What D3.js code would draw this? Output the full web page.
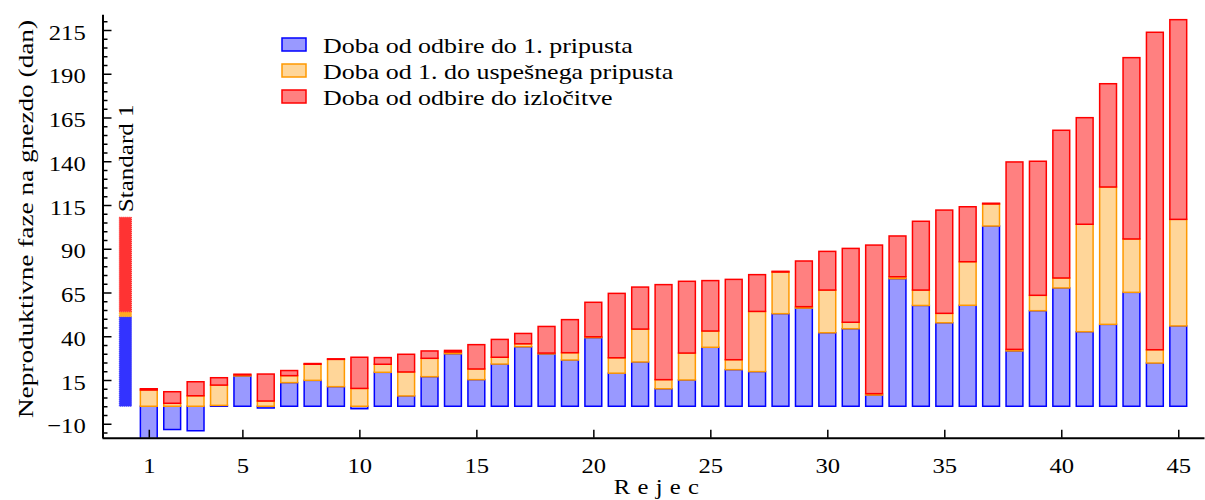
<!DOCTYPE html>
<html>
<head>
<meta charset="utf-8">
<script src="https://cdn.jsdelivr.net/npm/d3@7"></script>
<style>
  body { margin: 0; background: #fff; }
  svg { display: block; font-family: "Liberation Serif", "Times New Roman", serif; }
</style>
</head>
<body>
<div id="chart"></div>
<script>
// rejec (sow) number 1..45, values in days
var rejec = d3.range(1, 46);

var dobaDoPripusta = [-20, -13.3, -14, 0.5, 17.3, -1, 13.5, 14.8, 11.2, -1.4,
    19.4, 5.9, 16.9, 30.0, 15.2, 24.1, 34.0, 29.9, 26.4, 39.2,
    18.9, 25.3, 10.0, 15.0, 33.7, 20.9, 19.8, 52.9, 56.1, 42.0,
    44.3, 6.4, 72.9, 57.6, 47.7, 57.7, 103.0, 31.6, 54.6, 67.6,
    42.6, 46.8, 65.1, 24.7, 45.9];

var dobaDoUspesnega = [9.3, 1.7, 6.0, 11.6, 0.6, 3.0, 4.0, 9.2, 15.6, 10.2,
    4.6, 13.7, 10.5, 1.0, 6.1, 3.9, 1.7, 0.5, 4.2, 0.5,
    8.8, 18.8, 5.2, 15.4, 9.3, 5.7, 34.4, 23.8, 0.8, 24.4,
    3.7, 0.8, 1.1, 8.8, 5.4, 24.9, 12.6, 0.9, 8.8, 5.7,
    61.4, 78.5, 30.5, 7.6, 60.9];

var dobaDoIzlocitve = [0.7, 6.6, 8.0, 4.2, 0.4, 15.4, 2.9, 0.4, 0.3, 17.8,
    3.8, 10.1, 4.2, 0.9, 13.9, 10.2, 5.9, 15.2, 18.9, 19.7,
    36.8, 24.0, 54.3, 41.0, 28.8, 45.9, 21.0, 0.4, 26.1, 22.1,
    42.2, 84.9, 23.3, 39.3, 59.0, 31.4, 0.4, 107.1, 76.6, 84.4,
    60.9, 59.0, 103.6, 181.4, 114.1];

// "Standard 1" reference bar
var standard = [51.2, 2.8, 54.0];

var keys = ["blue", "orange", "red"];
var legendLabels = ["Doba od odbire do 1. pripusta",
    "Doba od 1. do uspešnega pripusta",
    "Doba od odbire do izločitve"];
var xTicks = [1, 5, 10, 15, 20, 25, 30, 35, 40, 45];
var yTicks = [-10, 15, 40, 65, 90, 115, 140, 165, 190, 215];

var fills = {blue: "#9999ff", orange: "#ffd699", red: "#ff8080"};
var strokes = {blue: "#0000ff", orange: "#ff9900", red: "#ff0000"};
var stdFills = {blue: "#3333ff", orange: "#ffaa22", red: "#ff3333"};

var width = 1205, height = 500;
var stretch = 1.12;

var rows = rejec.map(function (r, i) {
    return {x: r, blue: dobaDoPripusta[i], orange: dobaDoUspesnega[i], red: dobaDoIzlocitve[i]};
});
var stdRow = [{x: 0, blue: standard[0], orange: standard[1], red: standard[2]}];

var x = d3.scaleLinear().domain([-1, 46.1]).range([102, 1204]);
var y = d3.scaleLinear().domain([-18, 224]).range([437.75, 14.25]);

var stack = d3.stack().keys(keys).offset(d3.stackOffsetDiverging);
var series = stack(rows);
var stdSeries = stack(stdRow);

var svg = d3.select("#chart").append("svg")
    .attr("width", width)
    .attr("height", height);

svg.append("clipPath").attr("id", "plot")
    .append("rect")
    .attr("x", 102).attr("y", 14)
    .attr("width", 1103).attr("height", 423.75);

// minor y ticks
var minor = d3.range(-15, 221, 5).filter(function (v) { return yTicks.indexOf(v) < 0; });
svg.append("g")
    .attr("transform", "translate(102.5,0)")
    .call(d3.axisLeft(y).tickValues(minor).tickSize(-5).tickFormat(""))
    .call(function (g) { g.select(".domain").remove(); })
    .selectAll("line").attr("stroke-width", 1.5);

// bars
var barW = x(0.72) - x(0);
var gBars = svg.append("g").attr("clip-path", "url(#plot)");

series.forEach(function (s) {
    gBars.append("g").selectAll("rect")
        .data(s)
        .enter().append("rect")
        .attr("x", function (d) { return x(d.data.x) - barW / 2; })
        .attr("y", function (d) { return y(Math.max(d[0], d[1])); })
        .attr("width", barW)
        .attr("height", function (d) { return Math.abs(y(d[0]) - y(d[1])); })
        .attr("fill", fills[s.key])
        .attr("stroke", strokes[s.key])
        .attr("stroke-width", 1.5);
});

var stdW = x(0.52) - x(0);
stdSeries.forEach(function (s) {
    gBars.append("g").selectAll("rect")
        .data(s)
        .enter().append("rect")
        .attr("x", function (d) { return x(d.data.x) - stdW / 2; })
        .attr("y", function (d) { return y(d[1]); })
        .attr("width", stdW)
        .attr("height", function (d) { return y(d[0]) - y(d[1]); })
        .attr("fill", stdFills[s.key])
        .attr("stroke", stdFills[s.key])
        .attr("stroke-width", 1)
        .attr("stroke-dasharray", "1,1");
});

svg.append("text")
    .attr("transform", "translate(" + (x(0) + 8) + "," + (y(standard[0] + standard[1] + standard[2]) - 5) + ") rotate(-90) scale(1.14,1)")
    .attr("font-size", 22)
    .text("Standard 1");

// x axis
var xAxis = svg.append("g")
    .attr("transform", "translate(0,437.75)")
    .call(d3.axisBottom(x).tickValues(xTicks).tickSizeInner(-8).tickSizeOuter(0).tickPadding(20));
xAxis.select(".domain").attr("stroke-width", 2);
xAxis.selectAll("line").attr("stroke-width", 1.5);
xAxis.selectAll("text")
    .attr("font-size", 22)
    .attr("font-family", "Liberation Serif")
    .attr("fill", "#000")
    .attr("transform", "scale(" + stretch + ",1)");

// y axis
var yAxis = svg.append("g")
    .attr("transform", "translate(102.5,0)")
    .call(d3.axisLeft(y).tickValues(yTicks).tickSizeInner(-9).tickSizeOuter(0).tickPadding(15)
        .tickFormat(function (d) { return d < 0 ? "\u2212" + Math.abs(d) : d; }));
yAxis.select(".domain").attr("stroke-width", 2);
yAxis.selectAll("line").attr("stroke-width", 1.5);
yAxis.selectAll("text")
    .attr("font-size", 22)
    .attr("font-family", "Liberation Serif")
    .attr("fill", "#000")
    .attr("dy", "0.42em")
    .attr("transform", "scale(" + stretch + ",1)");

// axis titles
svg.append("text")
    .attr("transform", "translate(33,219) rotate(-90) scale(1.24,1)")
    .attr("text-anchor", "middle")
    .attr("font-size", 22)
    .text("Neproduktivne faze na gnezdo (dan)");

svg.append("text")
    .attr("transform", "translate(660,494) scale(" + stretch + ",1)")
    .attr("text-anchor", "middle")
    .attr("font-size", 22)
    .attr("letter-spacing", 6.5)
    .text("Rejec");

// legend
var legend = svg.append("g").attr("transform", "translate(282,38)");
keys.forEach(function (k, i) {
    var row = legend.append("g").attr("transform", "translate(0," + i * 26 + ")");
    row.append("rect")
        .attr("width", 24).attr("height", 13)
        .attr("fill", fills[k])
        .attr("stroke", strokes[k])
        .attr("stroke-width", 1.5);
    row.append("text")
        .attr("transform", "translate(41,14.5) scale(1.18,1)")
        .attr("font-size", 22)
        .text(legendLabels[i]);
});
</script>
</body>
</html>
